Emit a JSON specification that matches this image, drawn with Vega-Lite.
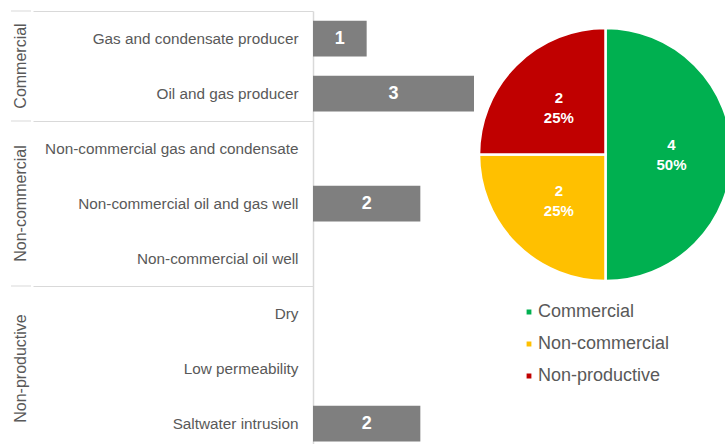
{
  "$schema": "https://vega.github.io/schema/vega-lite/v6.json",
  "background": "white",
  "padding": {"left": 10, "top": 10, "right": 0, "bottom": 0},
  "config": {"view": {"stroke": null}, "font": "Liberation Sans"},
  "resolve": {"legend": {"color": "independent"}},
  "spacing": 0,
  "hconcat": [
    {
      "width": 20,
      "height": 440,
      "data": {"values": [
        {"group": "Commercial", "start": 0, "end": 2},
        {"group": "Non-commercial", "start": 2, "end": 5},
        {"group": "Non-productive", "start": 5, "end": 8}
      ]},
      "transform": [{"calculate": "(datum.start + datum.end) / 2", "as": "mid"}],
      "layer": [
        {
          "mark": {"type": "rule", "color": "#d9d9d9", "strokeWidth": 1},
          "encoding": {"y": {"field": "start", "type": "quantitative", "scale": {"domain": [0, 8], "reverse": true, "nice": false, "zero": false}, "axis": null}}
        },
        {
          "mark": {"type": "text", "angle": 270, "fontSize": 16, "color": "#595959", "font": "Liberation Sans"},
          "encoding": {
            "y": {"field": "mid", "type": "quantitative", "axis": null},
            "text": {"field": "group"}
          }
        }
      ]
    },
    {
      "width": 161,
      "height": 440,
      "data": {"values": [
        {"category": "Gas and condensate producer", "group": "Commercial", "wells": 1},
        {"category": "Oil and gas producer", "group": "Commercial", "wells": 3},
        {"category": "Non-commercial gas and condensate", "group": "Non-commercial", "wells": 0},
        {"category": "Non-commercial oil and gas well", "group": "Non-commercial", "wells": 2},
        {"category": "Non-commercial oil well", "group": "Non-commercial", "wells": 0},
        {"category": "Dry", "group": "Non-productive", "wells": 0},
        {"category": "Low permeability", "group": "Non-productive", "wells": 0},
        {"category": "Saltwater intrusion", "group": "Non-productive", "wells": 2}
      ]},
      "encoding": {
        "y": {
          "field": "category", "type": "nominal", "sort": null,
          "scale": {"paddingInner": 0, "paddingOuter": 0},
          "axis": {
            "title": null,
            "domainColor": "#d9d9d9", "domainWidth": 1.5,
            "tickBand": "extent", "tickSize": 280, "tickWidth": 1,
            "minExtent": 280, "maxExtent": 280,
            "tickColor": {"condition": {"test": "datum.extra || indexof(['Oil and gas producer','Non-commercial oil well'], datum.value) >= 0", "value": "#d9d9d9"}, "value": "transparent"},
            "labelFontSize": {"condition": {"test": "datum.extra", "value": 0}, "value": 15.3},
            "labelPadding": -265, "labelColor": "#595959", "labelFont": "Liberation Sans", "labelLimit": 400
          }
        }
      },
      "layer": [
        {
          "mark": {"type": "bar", "color": "#7f7f7f", "height": {"band": 0.65}},
          "encoding": {"x": {"field": "wells", "type": "quantitative", "scale": {"domain": [0, 3], "nice": false}, "axis": null}}
        },
        {
          "transform": [{"filter": "datum.wells > 0"}, {"calculate": "datum.wells / 2", "as": "mid"}],
          "mark": {"type": "text", "color": "white", "fontWeight": "bold", "fontSize": 18, "font": "Liberation Sans"},
          "encoding": {
            "x": {"field": "mid", "type": "quantitative"},
            "text": {"field": "wells"}
          }
        }
      ]
    },
    {
      "width": 259,
      "height": 287,
      "data": {"values": [
        {"status": "Commercial", "wells": 4, "pct": "50%"},
        {"status": "Non-commercial", "wells": 2, "pct": "25%"},
        {"status": "Non-productive", "wells": 2, "pct": "25%"}
      ]},
      "encoding": {
        "theta": {"field": "wells", "type": "quantitative", "stack": true},
        "order": {"field": "status", "type": "ordinal", "sort": "ascending"},
        "color": {
          "field": "status", "type": "nominal",
          "scale": {"domain": ["Commercial", "Non-commercial", "Non-productive"], "range": ["#00b050", "#ffc000", "#c00000"]},
          "legend": {"title": null, "orient": "none", "legendX": 44, "legendY": 292, "symbolType": "square", "symbolSize": 40, "labelFontSize": 18, "labelColor": "#595959", "labelFont": "Liberation Sans", "rowPadding": 14, "labelOffset": 0}
        }
      },
      "layer": [
        {
          "mark": {"type": "arc", "outerRadius": 126.5, "stroke": "white", "strokeWidth": 2.5}
        },
        {
          "mark": {"type": "text", "radius": 66, "dy": -10, "fontWeight": "bold", "fontSize": 15, "font": "Liberation Sans"},
          "encoding": {"text": {"field": "wells"}, "fill": {"value": "white"}}
        },
        {
          "mark": {"type": "text", "radius": 66, "dy": 10, "fontWeight": "bold", "fontSize": 15, "font": "Liberation Sans"},
          "encoding": {"text": {"field": "pct"}, "fill": {"value": "white"}}
        }
      ]
    }
  ]
}
